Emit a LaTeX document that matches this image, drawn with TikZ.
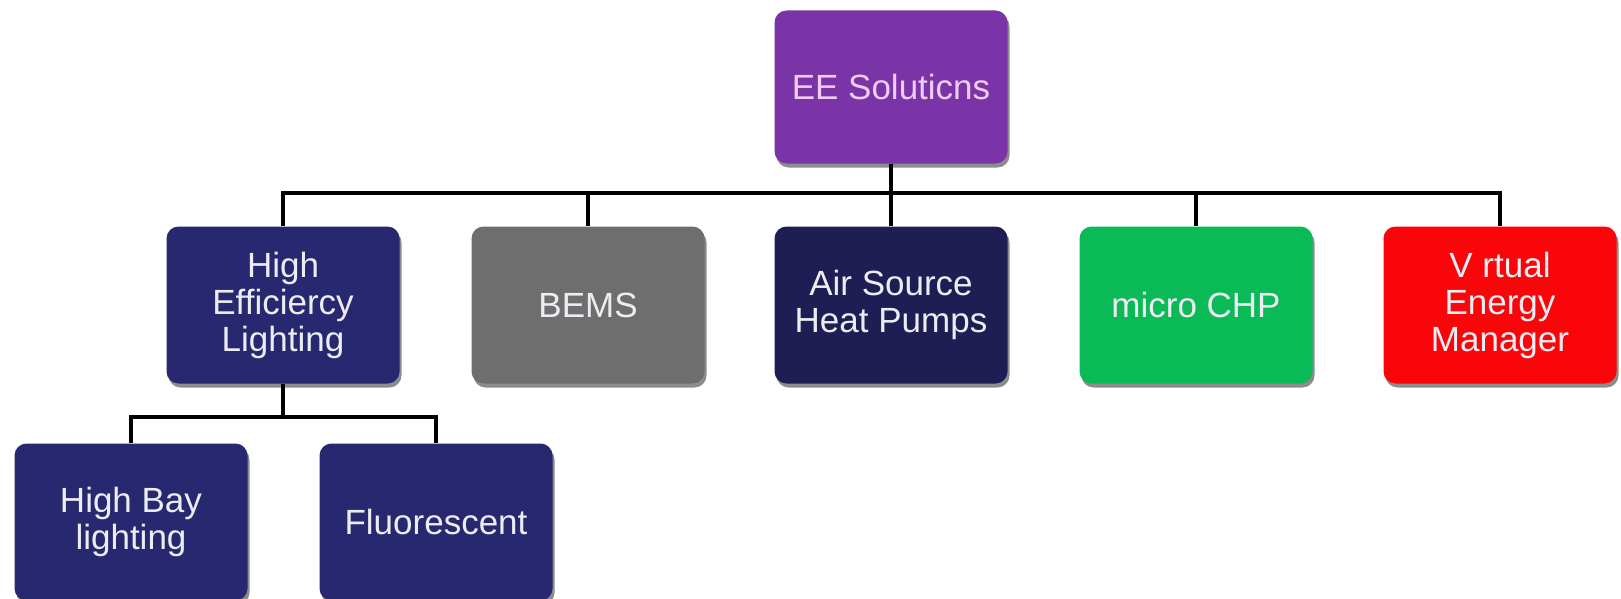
\documentclass[tikz,border=0pt]{standalone}
\usepackage{fontspec}
\setmainfont{Liberation Sans}
\usetikzlibrary{shadows}
\definecolor{cpurple}{RGB}{122,52,168}
\definecolor{cnavy}{RGB}{40,40,112}
\definecolor{cnavydark}{RGB}{30,30,84}
\definecolor{cgray}{RGB}{110,110,110}
\definecolor{cgreen}{RGB}{10,186,86}
\definecolor{cred}{RGB}{250,6,10}
\definecolor{ctxt}{RGB}{236,236,242}
\definecolor{ctxtp}{RGB}{238,205,240}
\tikzset{
  box/.style={rectangle, rounded corners=12pt, minimum width=233pt, minimum height=157pt,
    inner sep=0pt, align=center, text=ctxt, font=\fontsize{35}{37}\selectfont,
    drop shadow={shadow xshift=2pt, shadow yshift=-4pt, fill=black!45, opacity=1}},
  conn/.style={line width=4.5pt, black}
}
\begin{document}
\begin{tikzpicture}[x=1pt,y=-1pt]
\useasboundingbox (0,0) rectangle (1621,599);
\clip (0,0) rectangle (1621,599);
\node[box, fill=cpurple, text=ctxtp, minimum height=153pt] (root) at (891,87) {EE Soluticns};
\node[box, fill=cnavy] (hel) at (283,305) {High\\Efficiercy\\Lighting};
\node[box, fill=cgray] (bems) at (588,305) {BEMS};
\node[box, fill=cnavydark] (ash) at (891,305) {Air Source\\Heat Pumps};
\node[box, fill=cgreen] (chp) at (1196,305) {micro CHP};
\node[box, fill=cred] (vem) at (1500,305) {V rtual\\Energy\\Manager};
\node[box, fill=cnavy] (hb) at (131,522) {High Bay\\lighting};
\node[box, fill=cnavy] (fl) at (436,522) {Fluorescent};
\coordinate (bar1) at (891,193);
\coordinate (bar2) at (283,417);
\foreach \c in {hel,bems,ash,chp,vem}{
  \draw[conn] (root.south) -- (root.south |- bar1) -| (\c.north);
}
\foreach \c in {hb,fl}{
  \draw[conn] (hel.south) -- (hel.south |- bar2) -| (\c.north);
}
\end{tikzpicture}
\end{document}
